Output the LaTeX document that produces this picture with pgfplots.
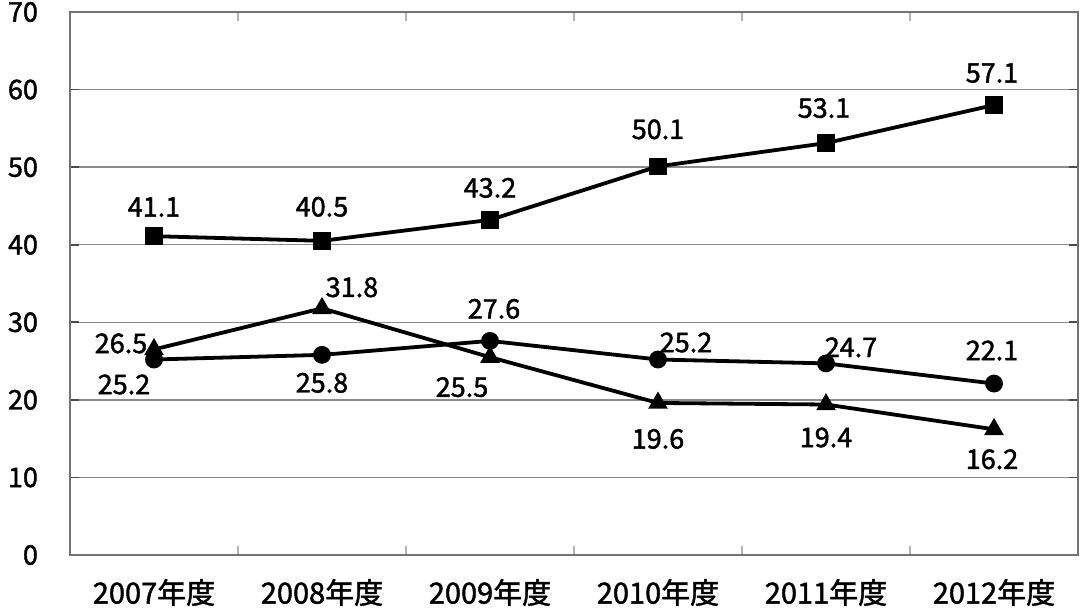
\documentclass[border=0pt]{standalone}
\usepackage{pgfplots}
\usepackage{pgfplotstable}
\pgfplotsset{compat=1.18}
\usepackage{fontspec}
\setmainfont{Noto Sans CJK JP}
\newfontfamily\lblfont{Noto Sans CJK JP}[FakeBold=1.6]

\pgfplotstableread{
x y lab dx dy
0 41.1 41.1 0 14.5
1 40.5 40.5 0 17
2 43.2 43.2 0 16
3 50.1 50.1 0 18.5
4 53.1 53.1 -1 17.5
5 58.0 57.1 -1 16
}\sq
\pgfplotstableread{
x y lab dx dy
0 25.2 25.2 -15 -12.5
1 25.8 25.8 0 -14
2 27.6 27.6 2 16
3 25.2 25.2 14 8.5
4 24.7 24.7 12.5 8
5 22.1 22.1 -1 16.5
}\ci
\pgfplotstableread{
x y lab dx dy
0 26.5 26.5 -16.5 3
1 31.8 31.8 15 10.5
2 25.5 25.5 -14 -15
3 19.6 19.6 0 -18
4 19.4 19.4 0 -16.5
5 16.2 16.2 -1 -15
}\tr

\pgfplotsset{
 lbl/.style={
  point meta=explicit symbolic,
  nodes near coords={\pgfplotspointmeta},
  visualization depends on={\thisrow{dx} \as \ldx},
  visualization depends on={\thisrow{dy} \as \ldy},
  every node near coord/.append style={anchor=center, xshift=\ldx pt, yshift=\ldy pt, font=\lblfont\fontsize{13.5}{15}\selectfont, text=black},
 }
}

\begin{document}
\begin{tikzpicture}
\begin{axis}[
 scale only axis, width=504pt, height=271.5pt,
 xmin=-0.5, xmax=5.5, ymin=0, ymax=70,
 xtick={0,...,5},
 xticklabels={2007年度,2008年度,2009年度,2010年度,2011年度,2012年度},
 minor xtick={-0.5,0.5,...,5.5},
 ytick={0,10,...,70},
 ymajorgrids,
 tick align=inside,
 major tick length=4.5pt, minor tick length=4.5pt,
 major x tick style={draw=none},
 minor x tick style={black!30, line width=0.8pt},
 ytick style={black!70, line width=0.8pt},
 axis line style={black!55, line width=1pt},
 grid style={black!45, line width=0.7pt},
 /pgf/number format/assume math mode=true,
 yticklabel style={font=\lblfont\fontsize{13.5}{15}\selectfont, xshift=-12.5pt},
 xticklabel style={font=\lblfont\fontsize{14.5}{17}\selectfont, yshift=-8.5pt},
 clip=false,
 every axis plot/.append style={black, line width=1.9pt},
]
\addplot[lbl, mark=square*, mark size=3.4pt, mark options={solid, fill=black}] table[x=x, y=y, meta=lab] {\sq};
\addplot[lbl, mark=*, mark size=3.5pt, mark options={solid, fill=black}] table[x=x, y=y, meta=lab] {\ci};
\addplot[lbl, mark=triangle*, mark size=3.8pt, mark options={solid, fill=black}] table[x=x, y=y, meta=lab] {\tr};
\end{axis}
\pgfresetboundingbox
\useasboundingbox ([shift={(-35pt,-29.5pt)}]current axis.south west) rectangle ([shift={(4pt,6pt)}]current axis.north east);
\end{tikzpicture}
\end{document}
